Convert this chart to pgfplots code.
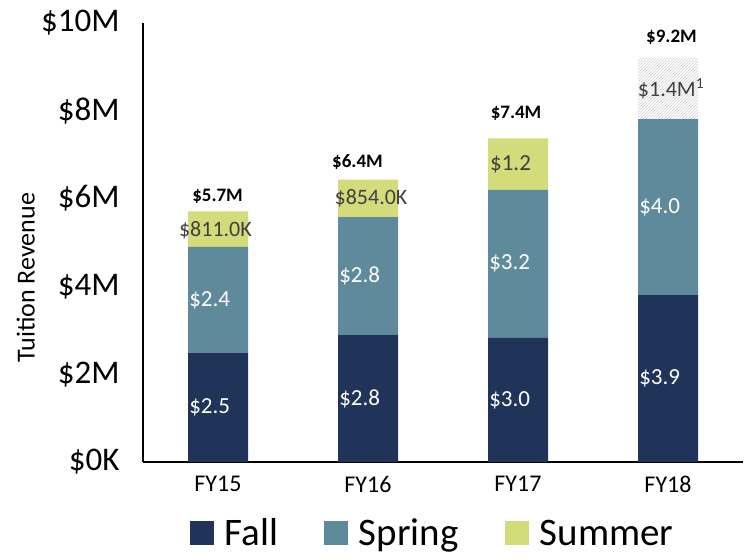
\documentclass[border=0pt]{standalone}
\usepackage{pgfplots}
\pgfplotsset{compat=1.18}
\usepackage{fontspec}
\setmainfont{Carlito}
\usetikzlibrary{patterns}
\definecolor{fallc}{HTML}{203359}
\definecolor{springc}{HTML}{5E8A9B}
\definecolor{summerc}{HTML}{D4DB7A}
\definecolor{lblgray}{HTML}{404040}
\begin{document}
\begin{tikzpicture}
\path[use as bounding box] (0,0) rectangle (751pt,558pt);
\begin{axis}[
  at={(143pt,96pt)}, anchor=south west,
  scale only axis, width=600pt, height=439pt,
  ybar stacked, bar width=60pt,
  xmin=-0.5, xmax=3.5, ymin=0, ymax=10,
  axis x line*=bottom, axis y line*=left,
  x axis line style={-}, y axis line style={-},
  axis line style={line width=1.4pt, black},
  ytick={0,2,4,6,8,10},
  yticklabels={\$0K,\$2M,\$4M,\$6M,\$8M,\$10M},
  xtick={0,1,2,3},
  xticklabels={FY15,FY16,FY17,FY18},
  major tick length=0pt,
  yticklabel style={font=\fontsize{33}{36}\selectfont, xshift=-20pt},
  xticklabel style={font=\fontsize{24}{28}\selectfont, yshift=-11pt},
  ylabel={Tuition Revenue},
  ylabel style={font=\fontsize{26}{30}\selectfont, at={(axis description cs:-0.18,0.42)}, anchor=south, inner sep=0pt},
  legend style={at={(axis description cs:0.4825,-0.162)}, anchor=center,
    draw=none, legend columns=-1, font=\fontsize{39}{42}\selectfont,
    /tikz/every odd column/.append style={column sep=9pt},
    /tikz/every even column/.append style={column sep=44pt}},
  legend image code/.code={\fill[#1] (0pt,-12pt) rectangle (24pt,12pt);},
]
\addplot[fill=fallc, draw=none] coordinates {(0,2.48) (1,2.89) (2,2.83) (3,3.80)};
\addplot[fill=springc, draw=none] coordinates {(0,2.42) (1,2.69) (2,3.37) (3,4.01)};
\addplot[fill=summerc, draw=none] coordinates {(0,0.81) (1,0.854) (2,1.17) (3,0)};
\addplot[draw=none, pattern=north east lines, pattern color=gray!35] coordinates {(0,0) (1,0) (2,0) (3,1.39)};
\legend{Fall,Spring,Summer}
\end{axis}
\begin{axis}[
  at={(143pt,96pt)}, anchor=south west,
  scale only axis, width=600pt, height=439pt,
  xmin=-0.5, xmax=3.5, ymin=0, ymax=10,
  hide axis, clip=false,
]
% fall and spring labels (white, left-aligned in bar)
\addplot[draw=none, mark=none, nodes near coords, point meta=explicit symbolic,
  nodes near coords align={center},
  every node near coord/.append style={anchor=west, text=white, font=\fontsize{23}{26}\selectfont, inner sep=0pt}]
  table[meta=lab] {
x y lab
-0.193 1.24 \$2.5
0.807 1.445 \$2.8
1.807 1.415 \$3.0
2.807 1.90 \$3.9
-0.193 3.69 \$2.4
0.807 4.235 \$2.8
1.807 4.515 \$3.2
2.807 5.805 \$4.0
};
% summer labels (grey, centred)
\addplot[draw=none, mark=none, nodes near coords, point meta=explicit symbolic,
  nodes near coords align={center},
  every node near coord/.append style={anchor=center, text=lblgray, font=\fontsize{22}{26}\selectfont, inner sep=0pt}]
  table[meta=lab] {
x y lab
-0.017 5.27 \$811.0K
1.02 6.01 \$854.0K
3.02 8.505 \$1.4M\textsuperscript{1}
};
\addplot[draw=none, mark=none, nodes near coords, point meta=explicit symbolic,
  nodes near coords align={center},
  every node near coord/.append style={anchor=west, text=lblgray, font=\fontsize{23}{26}\selectfont, inner sep=0pt}]
  table[meta=lab] {
x y lab
1.813 6.785 \$1.2
};
% totals (bold)
\addplot[draw=none, mark=none, nodes near coords, point meta=explicit symbolic,
  nodes near coords align={center},
  every node near coord/.append style={anchor=center, text=black, font=\bfseries\fontsize{19}{22}\selectfont, inner sep=0pt}]
  table[meta=lab] {
x y lab
-0.003 6.04 \$5.7M
0.93 6.83 \$6.4M
1.987 7.95 \$7.4M
3.023 9.68 \$9.2M
};
\end{axis}
\end{tikzpicture}
\end{document}
